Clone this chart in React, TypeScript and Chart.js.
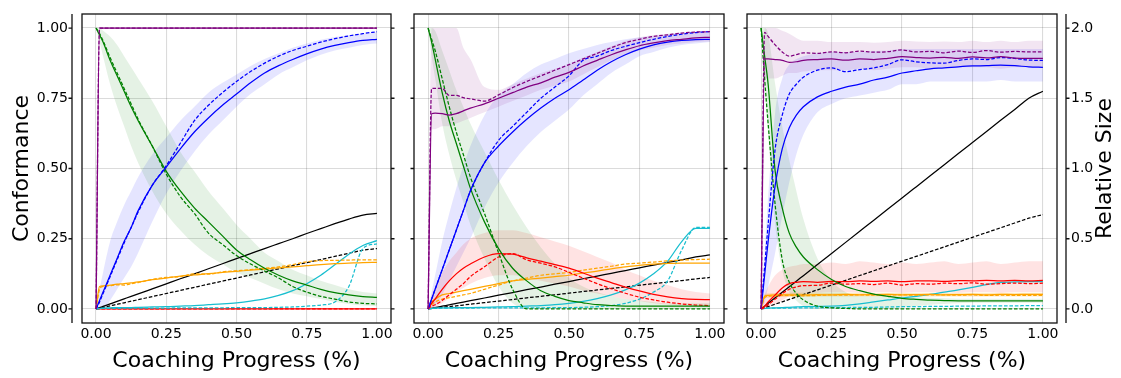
import React, { useEffect, useRef } from "react";
import { Chart, registerables } from "chart.js";

Chart.register(...registerables);

// ---------- shared x positions (coaching progress) ----------
const X = [0, 0.0125, 0.025, 0.05, 0.075, 0.1, 0.125, 0.15, 0.2, 0.25, 0.3, 0.35, 0.4, 0.45, 0.5, 0.55, 0.6, 0.65, 0.7, 0.75, 0.8, 0.85, 0.9, 0.95, 1.0];
const X_TICKS = [0, 0.25, 0.5, 0.75, 1];
const Y_TICKS = [0, 0.25, 0.5, 0.75, 1];
const Y2_TICKS = [0, 0.5, 1, 1.5, 2];
const X_TITLE = "Coaching Progress (%)";
const Y_TITLE = "Conformance";
const Y2_TITLE = "Relative Size";

// ---------- panel 1 ----------
const P1_PURPLE = [0, 1, 1, 1, 1, 1, 1, 1, 1, 1, 1, 1, 1, 1, 1, 1, 1, 1, 1, 1, 1, 1, 1, 1, 1];
const P1_PURPLE_D = [0, 1, 1, 1, 1, 1, 1, 1, 1, 1, 1, 1, 1, 1, 1, 1, 1, 1, 1, 1, 1, 1, 1, 1, 1];
const P1_BLUE = [0, 0.03, 0.06, 0.12, 0.18, 0.24, 0.29, 0.35, 0.44, 0.505, 0.57, 0.63, 0.68, 0.725, 0.765, 0.805, 0.84, 0.866, 0.888, 0.908, 0.925, 0.938, 0.948, 0.956, 0.96];
const P1_BLUE_D = [0, 0.025, 0.055, 0.115, 0.175, 0.235, 0.29, 0.345, 0.44, 0.51, 0.59, 0.67, 0.725, 0.77, 0.81, 0.845, 0.875, 0.9, 0.92, 0.935, 0.95, 0.962, 0.972, 0.98, 0.987];
const P1_BLUE_LO = [0, 0, 0, 0.03, 0.07, 0.11, 0.15, 0.2, 0.31, 0.41, 0.49, 0.56, 0.62, 0.67, 0.72, 0.765, 0.8, 0.835, 0.86, 0.885, 0.905, 0.92, 0.93, 0.94, 0.945];
const P1_BLUE_HI = [0, 0.07, 0.13, 0.24, 0.31, 0.37, 0.42, 0.47, 0.55, 0.61, 0.67, 0.72, 0.77, 0.805, 0.835, 0.865, 0.89, 0.91, 0.93, 0.945, 0.958, 0.968, 0.975, 0.98, 0.985];
const P1_GREEN = [1, 0.975, 0.95, 0.885, 0.83, 0.775, 0.72, 0.67, 0.58, 0.49, 0.42, 0.36, 0.31, 0.26, 0.21, 0.175, 0.145, 0.12, 0.1, 0.085, 0.07, 0.058, 0.05, 0.044, 0.041];
const P1_GREEN_D = [1, 0.98, 0.955, 0.895, 0.84, 0.785, 0.73, 0.675, 0.58, 0.48, 0.4, 0.34, 0.27, 0.23, 0.19, 0.16, 0.135, 0.11, 0.08, 0.06, 0.045, 0.035, 0.025, 0.02, 0.018];
const P1_GREEN_LO = [1, 0.95, 0.9, 0.8, 0.72, 0.65, 0.58, 0.52, 0.42, 0.34, 0.28, 0.23, 0.19, 0.16, 0.13, 0.11, 0.09, 0.07, 0.055, 0.045, 0.035, 0.025, 0.018, 0.012, 0.01];
const P1_GREEN_HI = [1, 1, 0.99, 0.97, 0.94, 0.9, 0.86, 0.82, 0.74, 0.65, 0.56, 0.49, 0.42, 0.36, 0.3, 0.25, 0.2, 0.17, 0.14, 0.12, 0.1, 0.085, 0.07, 0.06, 0.055];
const P1_RED = [0, 0, 0, 0, 0, 0, 0, 0, 0, 0, 0, 0, 0, 0, 0, 0, 0, 0, 0, 0, 0, 0, 0, 0, 0];
const P1_RED_D = [0, 0, 0, 0, 0, 0, 0, 0, 0, 0, 0, 0, 0, 0, 0, 0, 0, 0, 0, 0, 0, 0, 0, 0, 0];
const P1_ORANGE = [0, 0.08, 0.082, 0.085, 0.088, 0.09, 0.093, 0.096, 0.104, 0.11, 0.117, 0.121, 0.126, 0.13, 0.134, 0.138, 0.142, 0.146, 0.15, 0.154, 0.158, 0.161, 0.163, 0.165, 0.166];
const P1_ORANGE_D = [0, 0.07, 0.08, 0.083, 0.086, 0.085, 0.09, 0.094, 0.105, 0.112, 0.115, 0.125, 0.124, 0.132, 0.136, 0.14, 0.145, 0.15, 0.158, 0.168, 0.172, 0.173, 0.174, 0.175, 0.175];
const P1_CYAN = [0, 0.002, 0.003, 0.004, 0.005, 0.005, 0.005, 0.006, 0.007, 0.008, 0.01, 0.012, 0.015, 0.018, 0.022, 0.028, 0.036, 0.048, 0.065, 0.09, 0.12, 0.157, 0.195, 0.226, 0.243];
const P1_CYAN_D = [0, 0.001, 0.002, 0.002, 0.002, 0.003, 0.003, 0.003, 0.003, 0.003, 0.004, 0.004, 0.004, 0.004, 0.005, 0.005, 0.005, 0.006, 0.007, 0.01, 0.014, 0.025, 0.08, 0.215, 0.232];
const P1_SIZE = [0, 0.009, 0.018, 0.036, 0.054, 0.072, 0.09, 0.107, 0.143, 0.179, 0.215, 0.25, 0.286, 0.322, 0.358, 0.394, 0.43, 0.465, 0.5, 0.537, 0.572, 0.607, 0.64, 0.668, 0.68];
const P1_SIZE_D = [0, 0.0055, 0.011, 0.022, 0.033, 0.044, 0.055, 0.066, 0.088, 0.11, 0.132, 0.154, 0.176, 0.198, 0.22, 0.242, 0.264, 0.286, 0.308, 0.33, 0.352, 0.374, 0.396, 0.418, 0.43];

// ---------- panel 2 ----------
const P2_PURPLE = [0, 0.695, 0.697, 0.695, 0.69, 0.695, 0.705, 0.715, 0.73, 0.75, 0.77, 0.79, 0.805, 0.825, 0.842, 0.865, 0.885, 0.905, 0.922, 0.937, 0.947, 0.955, 0.96, 0.965, 0.967];
const P2_PURPLE_D = [0, 0.785, 0.785, 0.785, 0.76, 0.76, 0.752, 0.748, 0.74, 0.762, 0.788, 0.81, 0.83, 0.85, 0.87, 0.89, 0.91, 0.93, 0.948, 0.96, 0.97, 0.976, 0.982, 0.986, 0.987];
const P2_PURPLE_LO = [0, 0.64, 0.64, 0.65, 0.65, 0.66, 0.67, 0.68, 0.7, 0.72, 0.74, 0.76, 0.78, 0.795, 0.81, 0.835, 0.86, 0.885, 0.905, 0.92, 0.93, 0.94, 0.945, 0.95, 0.952];
const P2_PURPLE_HI = [0, 1, 1, 1, 1, 1, 0.93, 0.89, 0.79, 0.78, 0.8, 0.82, 0.84, 0.855, 0.87, 0.895, 0.915, 0.935, 0.955, 0.967, 0.975, 0.98, 0.985, 0.988, 0.99];
const P2_BLUE = [0, 0.035, 0.07, 0.14, 0.21, 0.28, 0.35, 0.42, 0.52, 0.58, 0.63, 0.675, 0.715, 0.75, 0.78, 0.815, 0.85, 0.88, 0.905, 0.925, 0.94, 0.95, 0.956, 0.959, 0.96];
const P2_BLUE_D = [0, 0.035, 0.07, 0.14, 0.21, 0.28, 0.35, 0.42, 0.52, 0.6, 0.65, 0.7, 0.75, 0.79, 0.83, 0.885, 0.9, 0.92, 0.935, 0.948, 0.96, 0.97, 0.978, 0.984, 0.987];
const P2_BLUE_LO = [0, 0, 0.01, 0.05, 0.1, 0.15, 0.2, 0.25, 0.36, 0.45, 0.52, 0.58, 0.63, 0.67, 0.71, 0.76, 0.8, 0.84, 0.87, 0.9, 0.915, 0.93, 0.94, 0.945, 0.95];
const P2_BLUE_HI = [0, 0.06, 0.12, 0.24, 0.34, 0.43, 0.51, 0.58, 0.69, 0.76, 0.8, 0.84, 0.87, 0.89, 0.91, 0.925, 0.94, 0.95, 0.96, 0.967, 0.972, 0.977, 0.98, 0.983, 0.985];
const P2_GREEN = [1, 0.95, 0.89, 0.77, 0.67, 0.59, 0.51, 0.43, 0.31, 0.215, 0.145, 0.1, 0.065, 0.045, 0.03, 0.022, 0.015, 0.012, 0.01, 0.01, 0.01, 0.01, 0.01, 0.01, 0.01];
const P2_GREEN_D = [1, 0.96, 0.92, 0.82, 0.72, 0.63, 0.55, 0.47, 0.34, 0.2, 0.07, 0, 0, 0, 0, 0, 0, 0, 0, 0, 0, 0, 0, 0, 0];
const P2_GREEN_LO = [1, 0.9, 0.82, 0.66, 0.55, 0.46, 0.38, 0.3, 0.18, 0.08, 0.02, 0, 0, 0, 0, 0, 0, 0, 0, 0, 0, 0, 0, 0, 0];
const P2_GREEN_HI = [1, 1, 0.99, 0.92, 0.85, 0.78, 0.72, 0.66, 0.56, 0.46, 0.37, 0.29, 0.22, 0.16, 0.11, 0.08, 0.06, 0.045, 0.035, 0.03, 0.025, 0.02, 0.02, 0.02, 0.02];
const P2_RED = [0, 0.02, 0.035, 0.07, 0.1, 0.125, 0.145, 0.16, 0.185, 0.197, 0.195, 0.182, 0.17, 0.158, 0.145, 0.128, 0.11, 0.094, 0.078, 0.064, 0.052, 0.043, 0.037, 0.034, 0.033];
const P2_RED_D = [0, 0.01, 0.015, 0.03, 0.05, 0.07, 0.09, 0.115, 0.15, 0.185, 0.197, 0.175, 0.163, 0.15, 0.13, 0.11, 0.09, 0.072, 0.056, 0.042, 0.032, 0.024, 0.018, 0.014, 0.012];
const P2_RED_LO = [0, 0, 0.005, 0.02, 0.04, 0.06, 0.075, 0.09, 0.11, 0.12, 0.12, 0.11, 0.1, 0.09, 0.08, 0.065, 0.055, 0.045, 0.035, 0.028, 0.02, 0.016, 0.013, 0.01, 0.01];
const P2_RED_HI = [0, 0.05, 0.08, 0.13, 0.17, 0.2, 0.23, 0.25, 0.27, 0.28, 0.28, 0.27, 0.255, 0.24, 0.225, 0.205, 0.185, 0.165, 0.14, 0.12, 0.1, 0.085, 0.07, 0.06, 0.055];
const P2_ORANGE = [0, 0.025, 0.035, 0.05, 0.055, 0.06, 0.065, 0.07, 0.08, 0.09, 0.1, 0.105, 0.11, 0.115, 0.12, 0.128, 0.135, 0.143, 0.15, 0.155, 0.16, 0.162, 0.163, 0.163, 0.163];
const P2_ORANGE_D = [0, 0.015, 0.025, 0.035, 0.04, 0.045, 0.05, 0.055, 0.07, 0.085, 0.1, 0.11, 0.12, 0.125, 0.13, 0.138, 0.145, 0.152, 0.16, 0.163, 0.167, 0.171, 0.174, 0.176, 0.177];
const P2_CYAN = [0, 0.002, 0.003, 0.004, 0.004, 0.005, 0.005, 0.005, 0.006, 0.007, 0.008, 0.01, 0.012, 0.015, 0.02, 0.027, 0.037, 0.05, 0.068, 0.092, 0.125, 0.17, 0.24, 0.287, 0.287];
const P2_CYAN_D = [0, 0.002, 0.003, 0.003, 0.003, 0.003, 0.003, 0.003, 0.004, 0.004, 0.004, 0.004, 0.004, 0.005, 0.005, 0.006, 0.008, 0.012, 0.02, 0.035, 0.06, 0.1, 0.21, 0.29, 0.29];
const P2_SIZE = [0, 0.005, 0.01, 0.02, 0.029, 0.039, 0.049, 0.059, 0.078, 0.098, 0.117, 0.137, 0.156, 0.176, 0.195, 0.215, 0.234, 0.254, 0.273, 0.293, 0.312, 0.332, 0.35, 0.37, 0.385];
const P2_SIZE_D = [0, 0.003, 0.006, 0.011, 0.017, 0.022, 0.028, 0.034, 0.045, 0.056, 0.067, 0.079, 0.09, 0.101, 0.112, 0.124, 0.135, 0.146, 0.157, 0.169, 0.18, 0.191, 0.202, 0.214, 0.224];

// ---------- panel 3 ----------
const P3_PURPLE = [0, 0.89, 0.89, 0.888, 0.885, 0.878, 0.88, 0.885, 0.888, 0.89, 0.886, 0.89, 0.888, 0.892, 0.898, 0.895, 0.893, 0.896, 0.892, 0.897, 0.894, 0.898, 0.893, 0.892, 0.892];
const P3_PURPLE_D = [0, 0.985, 0.97, 0.94, 0.915, 0.9, 0.905, 0.912, 0.91, 0.915, 0.912, 0.918, 0.914, 0.916, 0.922, 0.915, 0.917, 0.912, 0.918, 0.913, 0.92, 0.914, 0.917, 0.915, 0.915];
const P3_PURPLE_LO = [0, 0.82, 0.82, 0.82, 0.83, 0.84, 0.84, 0.845, 0.85, 0.85, 0.85, 0.855, 0.85, 0.855, 0.86, 0.86, 0.855, 0.86, 0.86, 0.86, 0.86, 0.855, 0.86, 0.86, 0.86];
const P3_PURPLE_HI = [0, 1, 1, 1, 0.99, 0.98, 0.965, 0.955, 0.955, 0.95, 0.95, 0.95, 0.948, 0.95, 0.955, 0.952, 0.95, 0.952, 0.95, 0.955, 0.95, 0.955, 0.95, 0.955, 0.955];
const P3_BLUE = [0, 0.12, 0.24, 0.44, 0.57, 0.645, 0.69, 0.72, 0.755, 0.775, 0.79, 0.8, 0.815, 0.825, 0.84, 0.848, 0.855, 0.858, 0.862, 0.865, 0.866, 0.868, 0.866, 0.862, 0.86];
const P3_BLUE_D = [0, 0.15, 0.3, 0.57, 0.69, 0.765, 0.8, 0.825, 0.85, 0.858, 0.845, 0.852, 0.858, 0.87, 0.887, 0.88, 0.876, 0.875, 0.885, 0.89, 0.888, 0.895, 0.892, 0.886, 0.885];
const P3_BLUE_LO = [0, 0.02, 0.08, 0.2, 0.33, 0.45, 0.55, 0.62, 0.7, 0.73, 0.75, 0.76, 0.77, 0.78, 0.8, 0.8, 0.81, 0.81, 0.81, 0.81, 0.81, 0.815, 0.81, 0.81, 0.81];
const P3_BLUE_HI = [0, 0.2, 0.4, 0.7, 0.82, 0.87, 0.89, 0.9, 0.91, 0.915, 0.915, 0.915, 0.918, 0.92, 0.925, 0.925, 0.925, 0.925, 0.925, 0.925, 0.925, 0.925, 0.925, 0.925, 0.925];
const P3_GREEN = [1, 0.9, 0.8, 0.49, 0.36, 0.27, 0.22, 0.185, 0.14, 0.105, 0.08, 0.065, 0.053, 0.045, 0.038, 0.034, 0.031, 0.03, 0.029, 0.029, 0.029, 0.029, 0.029, 0.029, 0.029];
const P3_GREEN_D = [1, 0.82, 0.66, 0.37, 0.175, 0.095, 0.055, 0.032, 0.01, 0.004, 0.002, 0, 0, 0, 0, 0, 0, 0, 0, 0, 0, 0, 0, 0, 0];
const P3_GREEN_LO = [1, 0.8, 0.62, 0.3, 0.14, 0.06, 0.03, 0.01, 0, 0, 0, 0, 0, 0, 0.005, 0.01, 0.015, 0.018, 0.02, 0.022, 0.022, 0.022, 0.022, 0.022, 0.022];
const P3_GREEN_HI = [1, 1, 0.98, 0.8, 0.65, 0.53, 0.42, 0.32, 0.18, 0.1, 0.06, 0.045, 0.045, 0.045, 0.045, 0.042, 0.04, 0.038, 0.036, 0.036, 0.036, 0.036, 0.036, 0.036, 0.036];
const P3_RED = [0, 0.01, 0.025, 0.05, 0.075, 0.09, 0.095, 0.097, 0.095, 0.098, 0.097, 0.1, 0.098, 0.1, 0.097, 0.1, 0.1, 0.098, 0.101, 0.1, 0.102, 0.1, 0.102, 0.1, 0.102];
const P3_RED_D = [0, 0.005, 0.015, 0.035, 0.055, 0.07, 0.078, 0.083, 0.084, 0.092, 0.088, 0.09, 0.087, 0.092, 0.085, 0.09, 0.088, 0.092, 0.09, 0.093, 0.088, 0.09, 0.092, 0.09, 0.092];
const P3_RED_LO = [0, 0, 0.005, 0.015, 0.03, 0.045, 0.05, 0.055, 0.058, 0.06, 0.06, 0.058, 0.06, 0.06, 0.058, 0.06, 0.06, 0.06, 0.058, 0.06, 0.06, 0.058, 0.06, 0.06, 0.06];
const P3_RED_HI = [0, 0.05, 0.08, 0.12, 0.14, 0.15, 0.155, 0.16, 0.16, 0.165, 0.16, 0.17, 0.165, 0.16, 0.165, 0.16, 0.165, 0.17, 0.16, 0.165, 0.17, 0.16, 0.165, 0.17, 0.17];
const P3_ORANGE = [0, 0.045, 0.048, 0.05, 0.05, 0.05, 0.05, 0.05, 0.051, 0.05, 0.052, 0.05, 0.051, 0.052, 0.05, 0.051, 0.052, 0.05, 0.051, 0.052, 0.05, 0.052, 0.051, 0.052, 0.052];
const P3_ORANGE_D = [0, 0.04, 0.045, 0.047, 0.048, 0.048, 0.048, 0.047, 0.048, 0.05, 0.049, 0.05, 0.049, 0.05, 0.05, 0.049, 0.05, 0.05, 0.049, 0.05, 0.048, 0.049, 0.048, 0.048, 0.048];
const P3_ORANGE_LO = [0, 0.038, 0.04, 0.042, 0.043, 0.043, 0.043, 0.043, 0.044, 0.044, 0.044, 0.044, 0.044, 0.044, 0.044, 0.044, 0.044, 0.044, 0.044, 0.044, 0.044, 0.044, 0.044, 0.044, 0.044];
const P3_ORANGE_HI = [0, 0.052, 0.055, 0.057, 0.058, 0.058, 0.058, 0.058, 0.058, 0.058, 0.058, 0.058, 0.058, 0.058, 0.058, 0.058, 0.058, 0.058, 0.058, 0.058, 0.058, 0.058, 0.058, 0.058, 0.058];
const P3_CYAN = [0, 0.002, 0.003, 0.004, 0.005, 0.006, 0.007, 0.008, 0.009, 0.01, 0.013, 0.018, 0.025, 0.032, 0.039, 0.045, 0.052, 0.06, 0.068, 0.077, 0.087, 0.095, 0.096, 0.097, 0.097];
const P3_CYAN_D = [0, 0.002, 0.003, 0.003, 0.003, 0.003, 0.004, 0.004, 0.004, 0.005, 0.005, 0.006, 0.006, 0.007, 0.008, 0.008, 0.009, 0.009, 0.01, 0.01, 0.011, 0.011, 0.011, 0.012, 0.012];
const P3_SIZE = [0, 0.02, 0.04, 0.079, 0.119, 0.158, 0.198, 0.237, 0.316, 0.395, 0.474, 0.553, 0.632, 0.711, 0.79, 0.869, 0.948, 1.027, 1.106, 1.185, 1.264, 1.343, 1.42, 1.5, 1.55];
const P3_SIZE_D = [0, 0.0085, 0.017, 0.034, 0.051, 0.068, 0.085, 0.102, 0.136, 0.17, 0.204, 0.238, 0.272, 0.306, 0.34, 0.374, 0.408, 0.442, 0.476, 0.51, 0.544, 0.578, 0.612, 0.646, 0.672];

// ---------- colours ----------
const C = {
  purple: "#800080",
  blue: "#0000ff",
  green: "#008000",
  red: "#ff0000",
  orange: "#ffa500",
  cyan: "#17becf",
  black: "#000000",
};
const BAND = {
  purple: "rgba(128,0,128,0.10)",
  blue: "rgba(0,0,255,0.10)",
  green: "rgba(0,128,0,0.10)",
  red: "rgba(255,0,0,0.11)",
  orange: "rgba(255,165,0,0.25)",
};

const pts = (ys: number[]) => X.map((x, i) => ({ x, y: ys[i] }));

const line = (ys: number[], color: string, dashed: boolean, axis = "y") => ({
  data: pts(ys),
  borderColor: color,
  borderWidth: 1.25,
  borderDash: dashed ? [3.6, 1.8] : [],
  pointRadius: 0,
  fill: false,
  yAxisID: axis,
  cubicInterpolationMode: "monotone",
});

const band = (lo: number[], hi: number[], color: string) => [
  { data: pts(lo), borderWidth: 0, pointRadius: 0, fill: false, yAxisID: "y", cubicInterpolationMode: "monotone" },
  { data: pts(hi), borderWidth: 0, pointRadius: 0, fill: "-1", backgroundColor: color, yAxisID: "y", cubicInterpolationMode: "monotone" },
];

const decor = {
  id: "decor",
  afterDraw(chart: any, _args: any, o: any) {
    const { ctx, chartArea: a, scales } = chart;
    const tl = 3.5;
    ctx.save();
    ctx.strokeStyle = "#111";
    ctx.lineWidth = 1.3;
    ctx.strokeRect(a.left, a.top, a.right - a.left, a.bottom - a.top);
    const ys = Y_TICKS.map((v) => scales.y.getPixelForValue(v));
    ctx.beginPath();
    if (o.leftFrameTicks) ys.forEach((y: number) => { ctx.moveTo(a.left, y); ctx.lineTo(a.left - tl, y); });
    if (o.rightFrameTicks) ys.forEach((y: number) => { ctx.moveTo(a.right, y); ctx.lineTo(a.right + tl, y); });
    if (o.leftSpine) {
      const x = a.left - o.leftSpine;
      ctx.moveTo(x, a.top); ctx.lineTo(x, a.bottom);
      ys.forEach((y: number) => { ctx.moveTo(x, y); ctx.lineTo(x - tl, y); });
    }
    if (o.rightSpine) {
      const x = a.right + o.rightSpine;
      ctx.moveTo(x, a.top); ctx.lineTo(x, a.bottom);
      Y2_TICKS.map((v) => scales.y2.getPixelForValue(v)).forEach((y: number) => { ctx.moveTo(x, y); ctx.lineTo(x + tl, y); });
    }
    ctx.stroke();
    if (o.rightTitle) {
      ctx.translate(o.rightTitleX, (a.top + a.bottom) / 2);
      ctx.rotate(-Math.PI / 2);
      ctx.font = "22px 'DejaVu Sans'";
      ctx.fillStyle = "#000";
      ctx.textAlign = "center";
      ctx.textBaseline = "middle";
      ctx.fillText(o.rightTitle, 0, 0);
    }
    ctx.restore();
  },
};

type PanelSpec = {
  left: number;
  width: number;
  yWidth: number;
  y2Width: number;
  padRight: number;
  showYLabels: boolean;
  showY2: boolean;
  decor: any;
  datasets: any[];
};

const GRID = "rgba(0,0,0,0.14)";

function buildDatasets(s: any) {
  const bands: any[] = [];
  (s.bands as any[]).forEach((b) => bands.push(...band(b[0], b[1], b[2])));
  const lines: any[] = s.lines.map((l: any) => line(l[0], l[1], l[2], l[3]));
  // Chart.js draws index 0 on top, so reverse the plotting order
  return [...lines.reverse(), ...bands];
}

const PANEL1 = buildDatasets({
  bands: [
    [P1_GREEN_LO, P1_GREEN_HI, BAND.green],
    [P1_BLUE_LO, P1_BLUE_HI, BAND.blue],
  ],
  lines: [
    [P1_SIZE, C.black, false, "y2"], [P1_SIZE_D, C.black, true, "y2"],
    [P1_RED, C.red, false], [P1_RED_D, C.red, true],
    [P1_CYAN, C.cyan, false], [P1_CYAN_D, C.cyan, true],
    [P1_ORANGE, C.orange, false], [P1_ORANGE_D, C.orange, true],
    [P1_GREEN, C.green, false], [P1_GREEN_D, C.green, true],
    [P1_BLUE, C.blue, false], [P1_BLUE_D, C.blue, true],
    [P1_PURPLE, C.purple, false], [P1_PURPLE_D, C.purple, true],
  ],
});

const PANEL2 = buildDatasets({
  bands: [
    [P2_PURPLE_LO, P2_PURPLE_HI, BAND.purple],
    [P2_GREEN_LO, P2_GREEN_HI, BAND.green],
    [P2_RED_LO, P2_RED_HI, BAND.red],
    [P2_BLUE_LO, P2_BLUE_HI, BAND.blue],
  ],
  lines: [
    [P2_SIZE, C.black, false, "y2"], [P2_SIZE_D, C.black, true, "y2"],
    [P2_CYAN, C.cyan, false], [P2_CYAN_D, C.cyan, true],
    [P2_ORANGE, C.orange, false], [P2_ORANGE_D, C.orange, true],
    [P2_RED, C.red, false], [P2_RED_D, C.red, true],
    [P2_GREEN, C.green, false], [P2_GREEN_D, C.green, true],
    [P2_BLUE, C.blue, false], [P2_BLUE_D, C.blue, true],
    [P2_PURPLE, C.purple, false], [P2_PURPLE_D, C.purple, true],
  ],
});

const PANEL3 = buildDatasets({
  bands: [
    [P3_PURPLE_LO, P3_PURPLE_HI, BAND.purple],
    [P3_GREEN_LO, P3_GREEN_HI, BAND.green],
    [P3_RED_LO, P3_RED_HI, BAND.red],
    [P3_ORANGE_LO, P3_ORANGE_HI, BAND.orange],
    [P3_BLUE_LO, P3_BLUE_HI, BAND.blue],
  ],
  lines: [
    [P3_SIZE, C.black, false, "y2"], [P3_SIZE_D, C.black, true, "y2"],
    [P3_CYAN, C.cyan, false], [P3_CYAN_D, C.cyan, true],
    [P3_ORANGE, C.orange, false], [P3_ORANGE_D, C.orange, true],
    [P3_RED, C.red, false], [P3_RED_D, C.red, true],
    [P3_GREEN, C.green, false], [P3_GREEN_D, C.green, true],
    [P3_BLUE, C.blue, false], [P3_BLUE_D, C.blue, true],
    [P3_PURPLE, C.purple, false], [P3_PURPLE_D, C.purple, true],
  ],
});

const SPECS: PanelSpec[] = [
  { left: 0, width: 400, yWidth: 82, y2Width: 0, padRight: 9, showYLabels: true, showY2: false,
    decor: { leftSpine: 10, rightFrameTicks: true }, datasets: PANEL1 },
  { left: 400, width: 335, yWidth: 14, y2Width: 0, padRight: 11, showYLabels: false, showY2: false,
    decor: { leftFrameTicks: true, rightFrameTicks: true }, datasets: PANEL2 },
  { left: 735, width: 386, yWidth: 12, y2Width: 64, padRight: 0, showYLabels: false, showY2: true,
    decor: { leftFrameTicks: true, rightSpine: 9, rightTitle: Y2_TITLE, rightTitleX: 370 }, datasets: PANEL3 },
];

function Panel({ spec }: { spec: PanelSpec }) {
  const ref = useRef<HTMLCanvasElement | null>(null);
  useEffect(() => {
    if (!ref.current) return;
    const chart = new Chart(ref.current, {
      type: "line",
      data: { datasets: spec.datasets },
      plugins: [decor],
      options: {
        animation: false,
        responsive: false,
        devicePixelRatio: 1,
        layout: { padding: { top: 14, right: spec.padRight, left: 0, bottom: 0 } },
        plugins: {
          legend: { display: false },
          tooltip: { enabled: false },
          filler: { drawTime: "beforeDatasetsDraw" },
          decor: spec.decor,
        } as any,
        scales: {
          x: {
            type: "linear",
            min: -0.05,
            max: 1.05,
            afterBuildTicks: (s: any) => { s.ticks = X_TICKS.map((v) => ({ value: v })); },
            afterFit: (s: any) => { s.height = 55; s.paddingLeft = 0; s.paddingRight = 0; },
            ticks: {
              autoSkip: false, maxRotation: 0, padding: 3, color: "#000",
              font: { size: 14, family: "'DejaVu Sans'" },
              callback: (v: any) => Number(v).toFixed(2),
            },
            grid: { color: GRID, lineWidth: 1.1, drawTicks: false },
            border: { display: false },
            title: { display: true, text: X_TITLE, color: "#000", font: { size: 22, family: "'DejaVu Sans'" }, padding: { top: 0, bottom: 4 } },
          },
          y: {
            type: "linear",
            position: "left",
            min: -0.05,
            max: 1.05,
            afterBuildTicks: (s: any) => { s.ticks = Y_TICKS.map((v) => ({ value: v })); },
            afterFit: (s: any) => { s.width = spec.yWidth; s.paddingTop = 0; s.paddingBottom = 0; },
            ticks: {
              display: spec.showYLabels, padding: 14, color: "#000",
              font: { size: 14, family: "'DejaVu Sans'" },
              callback: (v: any) => Number(v).toFixed(2),
            },
            grid: { color: GRID, lineWidth: 1.1, drawTicks: false },
            border: { display: false },
            title: { display: spec.showYLabels, text: Y_TITLE, color: "#000", font: { size: 22, family: "'DejaVu Sans'" }, padding: { top: 9, bottom: 0 } },
          },
          y2: {
            type: "linear",
            position: "right",
            display: spec.showY2,
            min: -0.1,
            max: 2.1,
            afterBuildTicks: (s: any) => { s.ticks = Y2_TICKS.map((v) => ({ value: v })); },
            afterFit: (s: any) => { s.width = spec.y2Width; s.paddingTop = 0; s.paddingBottom = 0; },
            ticks: {
              padding: 14, color: "#000",
              font: { size: 14, family: "'DejaVu Sans'" },
              callback: (v: any) => Number(v).toFixed(1),
            },
            grid: { drawOnChartArea: false, drawTicks: false },
            border: { display: false },
          },
        },
      } as any,
    });
    return () => chart.destroy();
  }, [spec]);
  return (
    <canvas
      ref={ref}
      width={spec.width}
      height={378}
      style={{ position: "absolute", left: spec.left, top: 0, width: spec.width, height: 378 }}
    />
  );
}

export default function App() {
  return (
    <div style={{ position: "fixed", left: 0, top: 0, width: 1121, height: 378, background: "#fff", overflow: "hidden" }}>
      {SPECS.map((s, i) => (
        <Panel key={i} spec={s} />
      ))}
    </div>
  );
}
